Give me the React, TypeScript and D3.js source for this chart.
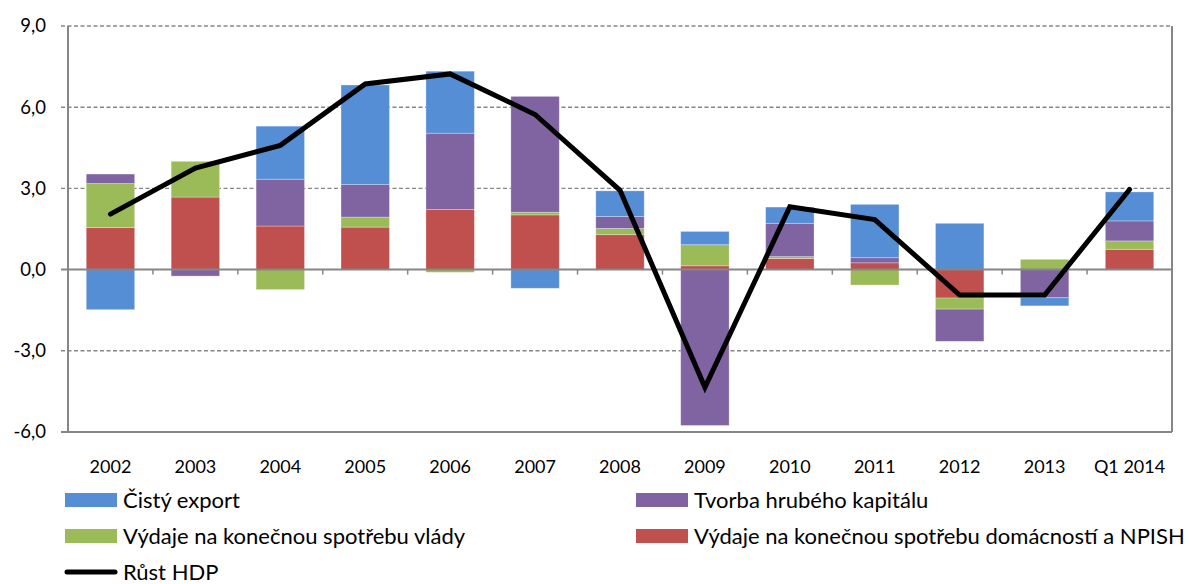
import React from "react";
import * as d3 from "d3";

// categories and contributions to GDP growth (p.b.)
const categories = ["2002", "2003", "2004", "2005", "2006", "2007", "2008", "2009", "2010", "2011", "2012", "2013", "Q1 2014"];
const domacnosti = [1.55, 2.68, 1.61, 1.57, 2.22, 2.02, 1.29, 0.14, 0.41, 0.25, -1.05, 0.0, 0.75];
const vlady = [1.63, 1.32, -0.74, 0.37, -0.1, 0.1, 0.23, 0.78, 0.07, -0.57, -0.41, 0.38, 0.31];
const kapital = [0.35, -0.24, 1.73, 1.2, 2.82, 4.28, 0.44, -5.76, 1.23, 0.19, -1.19, -1.04, 0.74];
const cistyExport = [-1.48, 0.0, 1.96, 3.68, 2.29, -0.69, 0.95, 0.49, 0.6, 1.97, 1.71, -0.3, 1.07];
const rustHdp = [2.05, 3.75, 4.59, 6.86, 7.23, 5.73, 2.93, -4.35, 2.32, 1.85, -0.94, -0.94, 2.96];
const yTicks = [-6, -3, 0, 3, 6, 9];

const seriesKeys = ["domacnosti", "vlady", "kapital", "export"];
const seriesColors = {
  domacnosti: "#C0504D",
  vlady: "#9BBB59",
  kapital: "#8064A2",
  export: "#558ED5",
};

const W = 1189;
const H = 584;
const margin = { top: 26, right: 17, bottom: 152, left: 68 };
const FONT = "Lato, 'Open Sans', sans-serif";

export default function App() {
  const rows = categories.map((c, i) => ({
    cat: c,
    domacnosti: domacnosti[i],
    vlady: vlady[i],
    kapital: kapital[i],
    export: cistyExport[i],
  }));

  const x = d3
    .scaleBand()
    .domain(categories)
    .range([margin.left, W - margin.right])
    .paddingInner(0.43)
    .paddingOuter(0.215);
  const xOuter = d3.scaleBand().domain(categories).range([margin.left, W - margin.right]);
  const y = d3.scaleLinear().domain([-6, 9]).range([H - margin.bottom, margin.top]);

  const stack = d3.stack().keys(seriesKeys).offset(d3.stackOffsetDiverging);
  const layers = stack(rows);

  const line = d3
    .line()
    .x((d, i) => x(categories[i]) + x.bandwidth() / 2)
    .y((d) => y(d));

  const x0 = margin.left;
  const x1 = W - margin.right;
  const gray = "#868686";
  const fmt = (v) => d3.format(".1f")(v).replace(".", ",").replace("−", "-");

  const legend = [
    { label: "Čistý export", color: seriesColors.export, x: 65, y: 500 },
    { label: "Tvorba hrubého kapitálu", color: seriesColors.kapital, x: 636, y: 500 },
    { label: "Výdaje na konečnou spotřebu vlády", color: seriesColors.vlady, x: 65, y: 536 },
    { label: "Výdaje na konečnou spotřebu domácností a NPISH", color: seriesColors.domacnosti, x: 636, y: 536 },
  ];

  return (
    <svg width={W} height={H} style={{ position: "absolute", left: 0, top: 0, background: "#fff" }}>
      {/* gridlines */}
      {yTicks
        .filter((t) => t !== 0 && t !== -6)
        .map((t) => (
          <line key={t} x1={x0 - 7} x2={x1} y1={y(t)} y2={y(t)} stroke={gray} strokeWidth={1.4} strokeDasharray="4,2.5" />
        ))}

      {/* bars */}
      {layers.map((layer) =>
        layer.map((d, i) => (
          <rect
            key={layer.key + i}
            x={x(categories[i])}
            y={y(Math.max(d[0], d[1]))}
            width={x.bandwidth()}
            height={Math.abs(y(d[0]) - y(d[1]))}
            fill={seriesColors[layer.key]}
            stroke="#ffffff"
            strokeOpacity={0.35}
            strokeWidth={0.8}
          />
        ))
      )}

      {/* axes */}
      <line x1={x0} x2={x0} y1={y(9)} y2={y(-6)} stroke={gray} strokeWidth={2} />
      <line x1={x1} x2={x1} y1={y(9)} y2={y(-6)} stroke={gray} strokeWidth={2} />
      <line x1={x0 - 7} x2={x1} y1={y(-6)} y2={y(-6)} stroke={gray} strokeWidth={2} />
      <line x1={x0 - 7} x2={x1} y1={y(0)} y2={y(0)} stroke={gray} strokeWidth={2} />
      {categories.slice(1).map((c) => (
        <line key={c} x1={xOuter(c)} x2={xOuter(c)} y1={y(0)} y2={y(0) + 5} stroke={gray} strokeWidth={1.5} />
      ))}

      {/* gdp line */}
      <path d={line(rustHdp)} fill="none" stroke="#000" strokeWidth={5} strokeLinejoin="miter" strokeLinecap="round" />

      {/* y tick labels */}
      {yTicks.map((t) => (
        <text key={t} x={46} y={y(t)} dy="0.35em" textAnchor="end" fontFamily={FONT} fontSize={18.5} fill="#000">
          {fmt(t)}
        </text>
      ))}

      {/* x labels */}
      {categories.map((c) => (
        <text key={c} x={xOuter(c) + xOuter.bandwidth() / 2} y={467} dy="0.35em" textAnchor="middle" fontFamily={FONT} fontSize={18} fill="#000">
          {c}
        </text>
      ))}

      {/* legend */}
      {legend.map((l) => (
        <g key={l.label}>
          <rect x={l.x} y={l.y - 7} width={52} height={14} fill={l.color} />
          <text x={l.x + 58} y={l.y} dy="0.35em" fontFamily={FONT} fontSize={22} fill="#000">
            {l.label}
          </text>
        </g>
      ))}
      <line x1={67} x2={115} y1={572} y2={572} stroke="#000" strokeWidth={5} strokeLinecap="round" />
      <text x={123} y={572} dy="0.35em" fontFamily={FONT} fontSize={22} fill="#000">
        Růst HDP
      </text>
    </svg>
  );
}
